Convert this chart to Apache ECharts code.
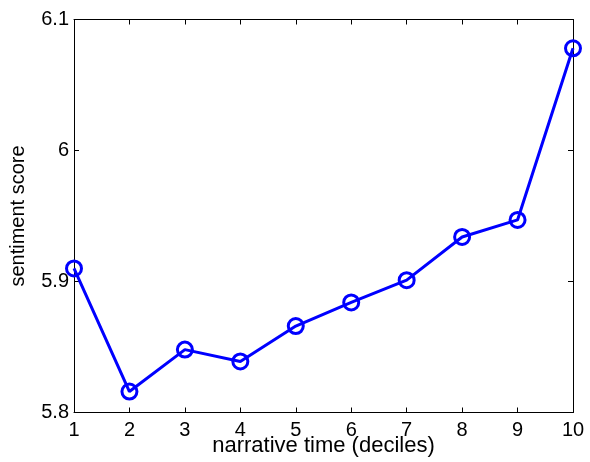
<!DOCTYPE html>
<html>
<head>
<meta charset="utf-8">
<script src="https://cdn.jsdelivr.net/npm/echarts@6/dist/echarts.min.js"></script>
<style>html,body{margin:0;padding:0;background:#fff}#c{width:590px;height:462px}</style>
</head>
<body>
<div id="c"></div>
<script>
var deciles = [1, 2, 3, 4, 5, 6, 7, 8, 9, 10];
var sentiment = [5.910, 5.816, 5.848, 5.839, 5.866, 5.884, 5.901, 5.934, 5.947, 6.078];
var yTicks = [5.8, 5.9, 6.0, 6.1];
var xLabel = 'narrative time (deciles)';
var yLabel = 'sentiment score';

var font = 'Liberation Sans, Arial, Helvetica, sans-serif';
var chart = echarts.init(document.getElementById('c'));
var axisLine = {show: true, lineStyle: {color: '#000', width: 1}};
var tick = {show: true, inside: true, length: 5, lineStyle: {color: '#000', width: 1}};
chart.setOption({
  animation: false,
  grid: {left: 74, right: 17, top: 19.5, bottom: 49.5, containLabel: false, outerBoundsMode: 'none'},
  xAxis: [{
    type: 'value', min: 1, max: 10, interval: 1, position: 'bottom',
    axisLine: axisLine, axisTick: tick, splitLine: {show: false},
    axisLabel: {color: '#000', fontSize: 20, fontFamily: font, margin: 8},
    name: xLabel, nameLocation: 'middle', nameGap: 22, nameMoveOverlap: false,
    nameTextStyle: {color: '#000', fontSize: 22, fontFamily: font}
  }, {
    type: 'value', min: 1, max: 10, interval: 1, position: 'top',
    axisLine: axisLine, axisTick: tick, splitLine: {show: false},
    axisLabel: {show: false}
  }],
  yAxis: [{
    type: 'value', min: yTicks[0], max: yTicks[yTicks.length - 1], interval: 0.1, position: 'left',
    axisLine: axisLine, axisTick: tick, splitLine: {show: false},
    axisLabel: {color: '#000', fontSize: 20, fontFamily: font, margin: 5,
      formatter: function (v) { return String(parseFloat(v.toFixed(1))); }},
    name: yLabel, nameLocation: 'middle', nameGap: 46, nameMoveOverlap: false,
    nameTextStyle: {color: '#000', fontSize: 20, fontFamily: font}
  }, {
    type: 'value', min: yTicks[0], max: yTicks[yTicks.length - 1], interval: 0.1, position: 'right',
    axisLine: axisLine, axisTick: tick, splitLine: {show: false},
    axisLabel: {show: false}
  }],
  series: [{
    type: 'line',
    xAxisIndex: 0, yAxisIndex: 0,
    data: deciles.map(function (d, i) { return [d, sentiment[i]]; }),
    lineStyle: {color: '#0000ff', width: 3},
    symbol: 'circle', symbolSize: 15,
    itemStyle: {color: 'rgba(0,0,0,0)', borderColor: '#0000ff', borderWidth: 3},
    clip: false
  }]
});
</script>
</body>
</html>
